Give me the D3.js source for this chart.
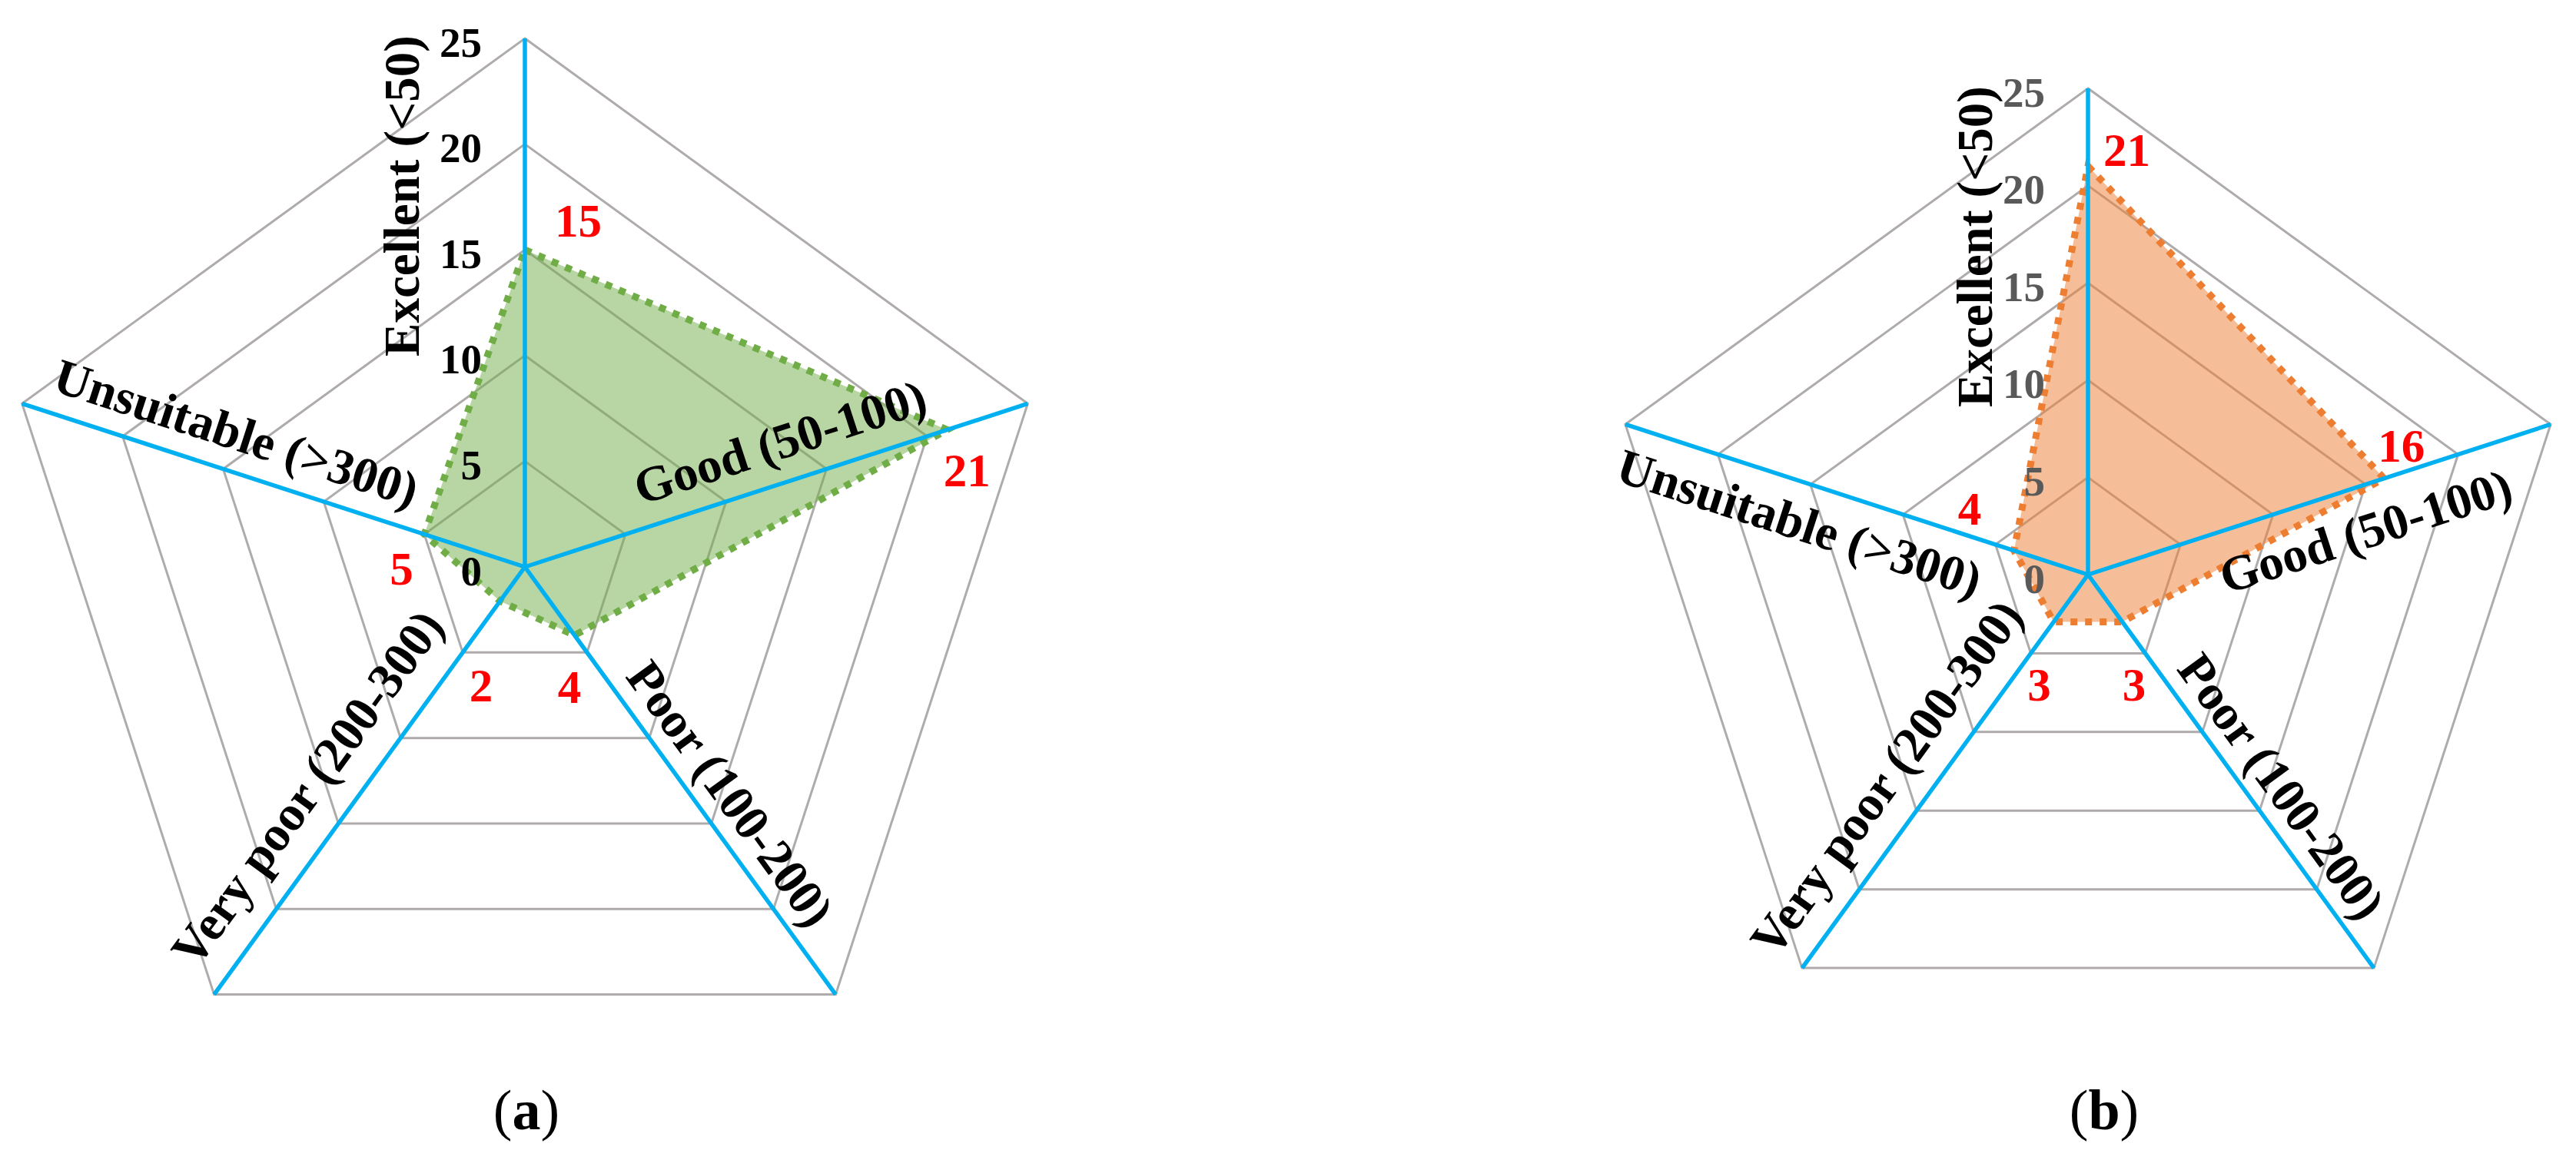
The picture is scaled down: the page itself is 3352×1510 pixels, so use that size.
<!DOCTYPE html>
<html>
<head>
<meta charset="utf-8">
<script src="https://cdn.jsdelivr.net/npm/d3@7"></script>
<style>
  body { margin: 0; background: #fff; }
  text { font-family: "Liberation Serif", "Times New Roman", serif; }
</style>
</head>
<body>
<svg id="chart" width="3352" height="1510"></svg>
<script>
// ---------------- data ----------------
const categories = ["Excellent (<50)", "Good (50-100)", "Poor (100-200)", "Very poor (200-300)", "Unsuitable (>300)"];
const valuesA = [15, 21, 4, 2, 5];
const valuesB = [21, 16, 3, 3, 4];
const tickValues = [0, 5, 10, 15, 20, 25];
const ringValues = [5, 10, 15, 20, 25];
const panelLabels = ["a", "b"];

// ---------------- layout ----------------
const panels = [
  {
    values: valuesA, letter: panelLabels[0],
    cx: 683, cy: 738, R: 688,
    color: "#70AD47", tickColor: "#000000", captionX: 685,
    catPos: [[483, 160], [366, 52], [396, 43], [399, 60], [411, 50]],
    valOff: [[39, -17], [-5, 74], [-22, 88], [-40, 130], [-45, 66]]
  },
  {
    values: valuesB, letter: panelLabels[1],
    cx: 2717, cy: 748, R: 633,
    color: "#ED7D31", tickColor: "#595959", captionX: 2738,
    catPos: [[427, 147], [361, -58], [371, 42], [368, 57], [378, -52]],
    valOff: [[20, 0], [-8, -22], [0, 103], [-34, 103], [-73, -34]]
  }
];

const svg = d3.select("#chart");
svg.append("rect").attr("width", 3352).attr("height", 1510).attr("fill", "#fff");

const n = categories.length;
const angle = d3.scaleLinear().domain([0, n]).range([0, 2 * Math.PI]);

panels.forEach(p => {
  const r = d3.scaleLinear().domain([0, 25]).range([0, p.R]);
  const g = svg.append("g").attr("transform", `translate(${p.cx},${p.cy})`);
  const pt = (i, v) => [Math.sin(angle(i)) * r(v), -Math.cos(angle(i)) * r(v)];

  const radial = d3.lineRadial()
    .angle((d, i) => angle(i))
    .curve(d3.curveLinearClosed);

  // grid rings
  g.selectAll("path.ring").data(ringValues).join("path")
    .attr("class", "ring")
    .attr("d", v => radial.radius(() => r(v))(categories))
    .attr("fill", "none")
    .attr("stroke", "#AFABAB")
    .attr("stroke-width", 3);

  // data area
  const area = d3.lineRadial()
    .angle((d, i) => angle(i))
    .radius(d => r(d))
    .curve(d3.curveLinearClosed);

  g.append("path")
    .attr("d", area(p.values))
    .attr("fill", p.color)
    .attr("fill-opacity", 0.5)
    .attr("stroke", "none");

  g.append("path")
    .attr("d", area(p.values))
    .attr("fill", "none")
    .attr("stroke", p.color)
    .attr("stroke-width", 9)
    .attr("stroke-dasharray", "9 10")
    .attr("stroke-linejoin", "miter");

  // axis spokes
  g.selectAll("line.spoke").data(categories).join("line")
    .attr("class", "spoke")
    .attr("x1", 0).attr("y1", 0)
    .attr("x2", (d, i) => pt(i, 25)[0])
    .attr("y2", (d, i) => pt(i, 25)[1])
    .attr("stroke", "#00B0F0")
    .attr("stroke-width", 5.5);

  // tick labels
  g.selectAll("text.tick").data(tickValues).join("text")
    .attr("class", "tick")
    .attr("x", -56)
    .attr("y", v => -r(v) + 5)
    .attr("text-anchor", "end")
    .attr("dominant-baseline", "central")
    .attr("font-size", 55)
    .attr("font-weight", "bold")
    .attr("fill", p.tickColor)
    .text(v => v);

  // category labels along axes
  g.selectAll("text.cat").data(categories).join("text")
    .attr("class", "cat")
    .attr("transform", (d, i) => {
      const a = angle(i);
      const ux = Math.sin(a), uy = -Math.cos(a);
      let th = Math.atan2(uy, ux);
      if (ux < -1e-6) th = Math.atan2(-uy, -ux);
      const upx = Math.sin(th), upy = -Math.cos(th);
      const [along, perp] = p.catPos[i];
      const x = ux * along + upx * perp;
      const y = uy * along + upy * perp;
      return `translate(${x},${y}) rotate(${th * 180 / Math.PI})`;
    })
    .attr("text-anchor", "middle")
    .attr("dominant-baseline", "central")
    .attr("font-size", 65)
    .attr("font-weight", "bold")
    .attr("fill", "#000")
    .text(d => d);

  // value labels
  g.selectAll("text.val").data(p.values).join("text")
    .attr("class", "val")
    .attr("x", (v, i) => pt(i, v)[0] + p.valOff[i][0])
    .attr("y", (v, i) => pt(i, v)[1] + p.valOff[i][1])
    .attr("text-anchor", "start")
    .attr("font-size", 61)
    .attr("font-weight", "bold")
    .attr("fill", "#FF0000")
    .text(v => v);

  // caption
  const cap = svg.append("text")
    .attr("x", p.captionX)
    .attr("y", 1470)
    .attr("text-anchor", "middle")
    .attr("font-size", 74)
    .attr("fill", "#000");
  cap.append("tspan").text("(");
  cap.append("tspan").attr("font-weight", "bold").text(p.letter);
  cap.append("tspan").text(")");
});
</script>
</body>
</html>
